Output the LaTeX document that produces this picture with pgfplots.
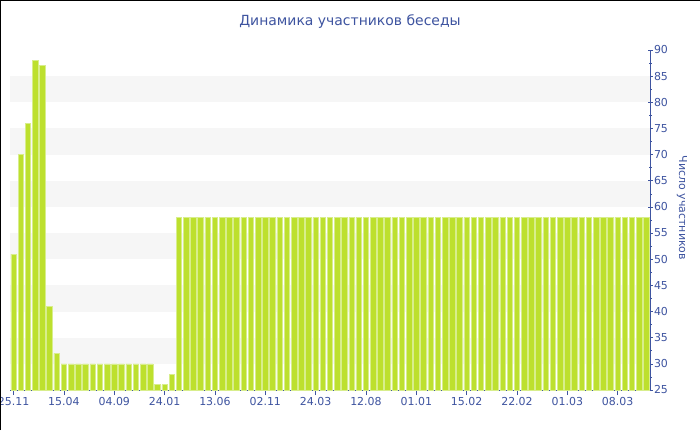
\documentclass[border=0pt]{standalone}
\usepackage{pgfplots}
\pgfplotsset{compat=1.18}
\usepackage{fontspec}
\setmainfont{DejaVu Sans}
\definecolor{barg}{RGB}{189,224,46}
\definecolor{barl}{RGB}{216,238,140}
\definecolor{ablue}{RGB}{62,84,160}
\definecolor{band}{RGB}{246,246,246}
\begin{document}
\begin{tikzpicture}[x=1bp,y=1bp]
\useasboundingbox (0,0) rectangle (700,430);
\fill[white] (0,0) rectangle (700,430);
\begin{axis}[
    at={(10bp,40bp)}, anchor=south west,
    width=640bp, height=340bp, scale only axis,
    xmin=0.5, xmax=89.5, ymin=25, ymax=90,
    axis y line*=right, axis x line*=bottom,
    axis line style={ablue, line width=0.8bp},
    ytick={25,30,...,90}, minor y tick num=1,
    xtick={1,8,...,85},
    xticklabels={25.11,15.04,04.09,24.01,13.06,02.11,24.03,12.08,01.01,15.02,22.02,01.03,08.03},
    xtick align=inside, ytick align=center,
    major tick length=5bp, minor tick length=3bp,
    tick style={ablue, line width=0.6bp},
    /pgf/number format/assume math mode=true,
    ticklabel style={font=\fontsize{11}{12}\selectfont, text=ablue},
    yticklabel style={xshift=-2bp},
    xticklabel style={yshift=1bp},
    ybar, bar width=0.77,
]
% alternating background bands
\fill[band] (axis cs:0.5,30) rectangle (axis cs:89.5,35);
\fill[band] (axis cs:0.5,40) rectangle (axis cs:89.5,45);
\fill[band] (axis cs:0.5,50) rectangle (axis cs:89.5,55);
\fill[band] (axis cs:0.5,60) rectangle (axis cs:89.5,65);
\fill[band] (axis cs:0.5,70) rectangle (axis cs:89.5,75);
\fill[band] (axis cs:0.5,80) rectangle (axis cs:89.5,85);
\addplot[fill=barg, draw=barl, line width=0.6bp] coordinates {
(1,51) (2,70) (3,76) (4,88) (5,87) (6,41) (7,32)
(8,30) (9,30) (10,30) (11,30) (12,30) (13,30) (14,30) (15,30) (16,30) (17,30) (18,30) (19,30) (20,30)
(21,26) (22,26) (23,28)
(24,58) (25,58) (26,58) (27,58) (28,58) (29,58) (30,58) (31,58) (32,58) (33,58)
(34,58) (35,58) (36,58) (37,58) (38,58) (39,58) (40,58) (41,58) (42,58) (43,58)
(44,58) (45,58) (46,58) (47,58) (48,58) (49,58) (50,58) (51,58) (52,58) (53,58)
(54,58) (55,58) (56,58) (57,58) (58,58) (59,58) (60,58) (61,58) (62,58) (63,58)
(64,58) (65,58) (66,58) (67,58) (68,58) (69,58) (70,58) (71,58) (72,58) (73,58)
(74,58) (75,58) (76,58) (77,58) (78,58) (79,58) (80,58) (81,58) (82,58) (83,58)
(84,58) (85,58) (86,58) (87,58) (88,58) (89,58)
};
\end{axis}
\node[text=ablue, font=\fontsize{14}{16}\selectfont] at (350,408) {Динамика участников беседы};
\node[text=ablue, rotate=-90, font=\fontsize{11}{12}\selectfont] at (682,222) {Число участников};
\draw[black, line width=1.2bp] (0.6,0) -- (0.6,429.4) -- (700,429.4);
\end{tikzpicture}
\end{document}
